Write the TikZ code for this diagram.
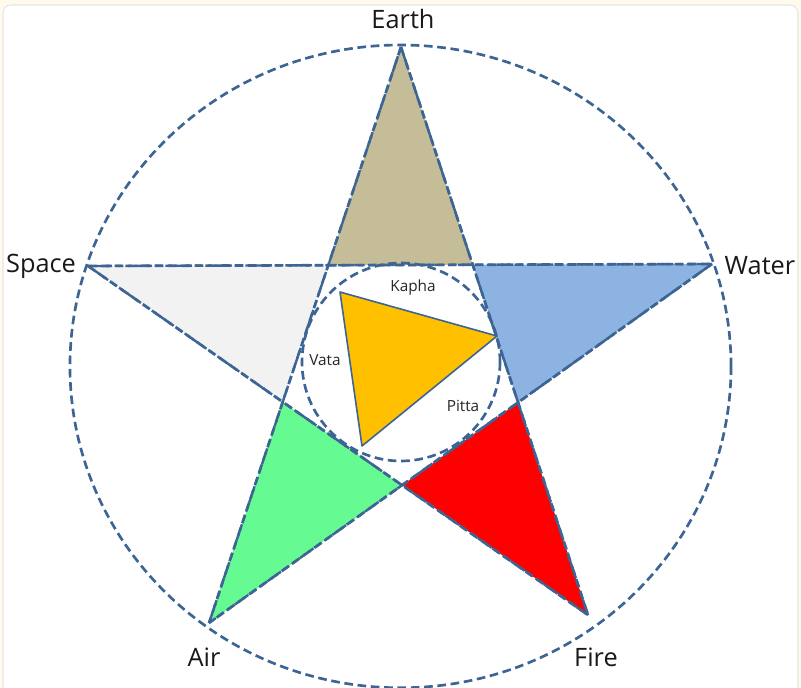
\documentclass[tikz,border=0pt]{standalone}
\usepackage{fontspec}
\setmainfont{Open Sans}
\definecolor{bgcream}{HTML}{FFFAEB}
\definecolor{panelline}{HTML}{E6E6E6}
\definecolor{linec}{HTML}{3D6594}
\definecolor{earthc}{HTML}{C4BD97}
\definecolor{waterc}{HTML}{8DB3E2}
\definecolor{firec}{HTML}{FF0000}
\definecolor{airc}{HTML}{66FA93}
\definecolor{spacec}{HTML}{F2F2F2}
\definecolor{doshac}{HTML}{FFC000}
\tikzset{
  dashline/.style={draw=linec, line width=2pt, dash pattern=on 6.5pt off 3.5pt},
  triline/.style={draw=linec, line width=1.8pt, dash pattern=on 5pt off 2.5pt, dash phase=2pt},
  biglabel/.style={font=\fontsize{19}{22}\selectfont, text=black!90, inner sep=0pt},
  smalllabel/.style={font=\fontsize{11.5}{13}\selectfont, text=black!85, inner sep=0pt},
}
\begin{document}
\begin{tikzpicture}[x=0.75pt,y=-0.75pt]
\useasboundingbox (0,0) rectangle (801,688);
\fill[bgcream] (0,0) rectangle (801,688);
\draw[panelline, fill=white, line width=0.8pt, rounded corners=6pt] (3,688) -- (3,5) -- (798,5) -- (798,688);

% star tips
\coordinate (E) at (401,47);
\coordinate (S) at (88,266);
\coordinate (W) at (712,264);
\coordinate (A) at (209,623);
\coordinate (F) at (588,615);
% inner pentagon
\coordinate (TL) at (intersection of E--A and S--W);
\coordinate (TR) at (intersection of E--F and S--W);
\coordinate (RR) at (intersection of E--F and W--A);
\coordinate (BB) at (intersection of W--A and S--F);
\coordinate (LL) at (intersection of E--A and S--F);

% outer circle
\draw[dashline] (400.5,366.4) ellipse [x radius=247.9pt, y radius=241.05pt];

% point triangles
\filldraw[triline, fill=earthc] (E) -- (TR) -- (TL) -- cycle;
\filldraw[triline, fill=waterc] (W) -- (RR) -- (TR) -- cycle;
\filldraw[triline, fill=firec] (F) -- (BB) -- (RR) -- cycle;
\filldraw[triline, fill=airc] (A) -- (LL) -- (BB) -- cycle;
\filldraw[triline, fill=spacec] (S) -- (TL) -- (LL) -- cycle;

% pentagram lines
\draw[dashline] (E) -- (A);
\draw[dashline] (E) -- (F);
\draw[dashline] (S) -- (W);
\draw[dashline] (S) -- (F);
\draw[dashline] (W) -- (A);

% inner circle
\draw[dashline] (401,362) circle [radius=74.25pt];

% dosha triangle
\coordinate (K1) at (340,292);
\coordinate (K2) at (497,336);
\coordinate (K3) at (362,446);
\filldraw[draw=linec, line width=1.2pt, fill=doshac, line join=round] (K1) -- (K2) -- (K3) -- cycle;

% labels
\node[biglabel] (earth) at (403,19) {Earth};
\node[biglabel] (space) at (41,266) {Space};
\node[biglabel] (water) at (760,266) {Water};
\node[biglabel] (air) at (204,657) {Air};
\node[biglabel] (fire) at (596,657) {Fire};
\node[smalllabel] (kapha) at (413,288) {Kapha};
\node[smalllabel] (vata) at (325,360) {Vata};
\node[smalllabel] (pitta) at (463,406) {Pitta};
\end{tikzpicture}
\end{document}
